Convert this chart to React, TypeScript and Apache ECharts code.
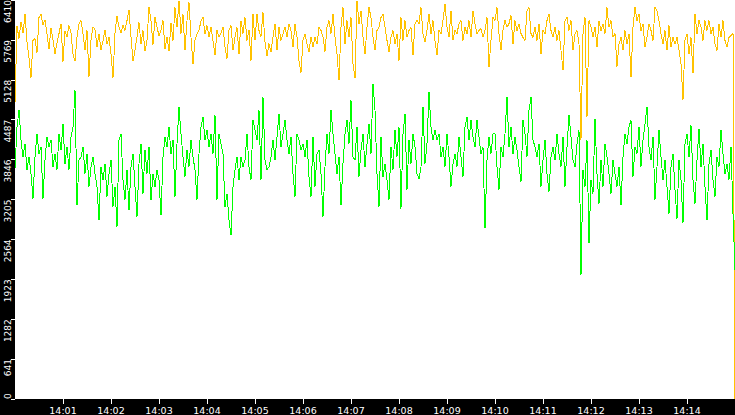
import React, { useEffect, useRef } from 'react';
import * as echarts from 'echarts';

// seconds after 14:00:00 are derived from the point index (one sample every 2.5 s)
const spanSeconds = 900;

const xTickSeconds = [60, 120, 180, 240, 300, 360, 420, 480, 540, 600, 660, 720, 780, 840];
const xTickLabels = ['14:01', '14:02', '14:03', '14:04', '14:05', '14:06', '14:07', '14:08', '14:09', '14:10', '14:11', '14:12', '14:13', '14:14'];

const yMax = 6410;
const yStep = 641;

const yellowValues = [
  4750, 5990, 5790, 6060, 5880, 6180, 5740, 5480, 5160, 5760,
  5790, 5560, 6130, 6180, 6010, 6090, 5870, 5620, 5960, 5770,
  5540, 5720, 5870, 6030, 5420, 5910, 5820, 6000, 5880, 5540,
  5430, 5820, 6030, 6080, 5860, 5600, 5920, 5180, 5760, 5980,
  5930, 5660, 5870, 5610, 5750, 5930, 5700, 5810, 5550, 5160,
  5870, 6160, 5970, 5880, 6010, 5920, 6080, 6250, 5810, 5430,
  5600, 5820, 6050, 5700, 5920, 5590, 5760, 6290, 6070, 5690,
  6130, 5970, 5840, 5930, 6080, 5620, 5810, 5590, 6040, 5760,
  6290, 5970, 6400, 5870, 6180, 5600, 6080, 6370, 5810, 5380,
  5760, 5870, 5930, 6070, 6130, 5860, 6000, 5820, 5970, 5760,
  5520, 5920, 5810, 5880, 5970, 5650, 5470, 5930, 6000, 5600,
  5810, 5970, 5540, 6080, 5870, 6130, 5760, 5930, 5430, 6180,
  5760, 6180, 5920, 5820, 6210, 5730, 5510, 5710, 5580, 5810,
  6030, 5600, 5970, 5760, 5870, 5980, 5810, 6030, 5920, 5650,
  6030, 5810, 5430, 5240, 5760, 5870, 5700, 5580, 5810, 5650,
  5810, 5700, 5970, 5920, 5820, 5580, 5970, 6080, 5870, 6180,
  5810, 5540, 5120, 5970, 6290, 5700, 6080, 5810, 6130, 5390,
  5150, 6400, 6030, 6240, 5810, 5540, 5970, 6290, 6130, 5810,
  5600, 5920, 5970, 6130, 6180, 5970, 5760, 5580, 5810, 5920,
  5700, 5870, 5430, 6130, 5760, 6080, 5810, 5920, 5970, 5520,
  6030, 6080, 6030, 6290, 5870, 5730, 5920, 6180, 5870, 6080,
  5760, 5520, 5920, 5870, 6080, 6350, 5970, 5810, 6240, 5760,
  5920, 5870, 6030, 6080, 5760, 5970, 5870, 6080, 5810, 6240,
  6030, 5870, 5920, 5950, 5810, 5920, 6130, 5330, 5760, 6130,
  6080, 6290, 5870, 5600, 5920, 6080, 5970, 6030, 6160, 5700,
  6080, 5920, 6030, 5870, 5810, 5760, 6240, 6290, 5870, 5810,
  5970, 5760, 6030, 5540, 5920, 5870, 6080, 6180, 5920, 5810,
  5970, 5760, 5920, 5600, 5280, 6080, 6130, 5920, 6080, 5600,
  5870, 5920, 5700, 4160, 5870, 6140, 4530, 6080, 5970, 5810,
  5970, 5650, 6080, 5920, 6030, 5870, 6290, 5970, 6080, 5810,
  5870, 5340, 5700, 5810, 5600, 5920, 5700, 5870, 5170, 5970,
  6290, 6080, 6180, 5920, 6030, 5650, 5810, 6030, 5920, 5760,
  6290, 6240, 6080, 5870, 5700, 5920, 5600, 6000, 5650, 5810,
  5700, 5810, 5600, 5390, 4800, 5760, 5870, 5540, 5810, 5230,
  6180, 5870, 6080, 5970, 5760, 6080, 5920, 6080, 5870, 5970,
  5700, 5600, 6030, 5810, 6080, 5760, 5650, 5810, 5840, 5870, 0,
];

const greenValues = [
  3700, 4370, 4640, 4160, 3890, 4100, 3680, 3890, 3620, 3220,
  3890, 4260, 3940, 4050, 3220, 3840, 4210, 4050, 4160, 3730,
  3940, 3680, 4260, 4000, 4420, 3780, 4050, 3680, 4210, 4370,
  4960, 3110, 3840, 3890, 4050, 3620, 3940, 3410, 3730, 3890,
  3620, 3410, 2870, 3730, 3520, 3780, 3250, 3620, 3840, 3090,
  3410, 2770, 4160, 4260, 3520, 3200, 3680, 3030, 3730, 3940,
  3410, 2930, 3780, 4100, 3300, 4000, 3620, 4050, 3200, 3620,
  3410, 3680, 3520, 2950, 3890, 4210, 4050, 4370, 3940, 4160,
  3250, 4100, 4690, 4260, 3890, 3570, 4000, 3730, 4160, 3890,
  3680, 3200, 3940, 4370, 4530, 4160, 4320, 4050, 4260, 3940,
  4560, 3200, 4260, 4100, 3940, 3090, 3300, 2870, 2630, 3410,
  3680, 3890, 3520, 3890, 3730, 3840, 4260, 3730, 3520, 4480,
  4320, 4160, 4640, 3520, 4850, 3840, 3680, 3730, 3890, 4160,
  3840, 4210, 4580, 4050, 4260, 4480, 4160, 3940, 4210, 3620,
  3250, 4260, 4160, 4000, 4100, 3890, 4160, 3570, 3250, 4210,
  3410, 3940, 4000, 3620, 2930, 3730, 4260, 3940, 4640, 4260,
  3940, 3620, 3890, 3110, 3780, 4260, 4480, 4100, 4800, 3890,
  3840, 4370, 3570, 4000, 4260, 3730, 4100, 4420, 3940, 5060,
  4640, 3620, 3090, 4210, 3570, 3780, 3520, 3200, 4050, 3680,
  4320, 3890, 4370, 3060, 4260, 4580, 3360, 4160, 3780, 4260,
  4050, 3620, 3540, 3730, 4690, 3780, 4100, 4930, 4370, 4160,
  4320, 4160, 4260, 3890, 4050, 3730, 4260, 3890, 3410, 3780,
  3940, 3730, 4210, 3890, 3570, 4370, 4530, 4160, 4480, 4210,
  4050, 4480, 4210, 3940, 4050, 2740, 3840, 4210, 3940, 4260,
  4260, 3730, 3360, 4050, 3890, 4260, 4850, 4050, 4370, 3940,
  4210, 4000, 3730, 3490, 4480, 4260, 3890, 4640, 4850, 4160,
  4050, 3890, 4100, 3410, 3840, 4160, 3620, 3330, 3890, 4050,
  3840, 4260, 3940, 3730, 4210, 3410, 4050, 4560, 4210, 3840,
  3730, 4100, 4320, 1990, 3680, 3410, 4160, 2500, 3520, 3300,
  4500, 3620, 3140, 3840, 3410, 4100, 3890, 3620, 3300, 3840,
  3620, 3410, 3730, 3110, 3890, 4260, 4100, 4370, 4480, 3570,
  4050, 3940, 4370, 3730, 4160, 4420, 4690, 4050, 3840, 4210,
  3200, 3730, 4320, 3890, 3520, 3840, 3410, 2980, 3730, 3940,
  3355, 2900, 3840, 3520, 2820, 4100, 4260, 3890, 4400, 3520,
  3140, 3840, 4340, 3730, 4100, 3410, 2870, 3780, 4000, 3520,
  3250, 3890, 3730, 4320, 3940, 3620, 3780, 3520, 4050, 2980, 2070,
];

const toPairs = (values: number[]) =>
  values.map((v, i) => [(i * spanSeconds) / (values.length - 1), v]);

const labelFont = 'DejaVu Sans';

const App = () => {
  const chartRef = useRef<HTMLDivElement>(null);

  useEffect(() => {
    const chart = echarts.init(chartRef.current, null, { renderer: 'svg' });
    chart.setOption({
      animation: false,
      backgroundColor: '#000',
      grid: {
        left: 15,
        right: 0,
        top: 0,
        bottom: 16,
        outerBoundsMode: 'none',
        containLabel: false,
        show: true,
        backgroundColor: '#fff',
        borderWidth: 0,
      },
      xAxis: {
        type: 'value',
        min: 0,
        max: spanSeconds,
        interval: 60,
        axisLine: { show: false },
        splitLine: { show: false },
        axisTick: {
          show: true,
          length: 5,
          customValues: xTickSeconds,
          lineStyle: { color: '#fff', width: 1 },
        },
        axisLabel: {
          customValues: xTickSeconds,
          color: '#fff',
          fontSize: 9.5,
          fontFamily: labelFont,
          margin: 6,
          formatter: (v: number) => xTickLabels[xTickSeconds.indexOf(v)] ?? '',
        },
      },
      yAxis: {
        type: 'value',
        min: 0,
        max: yMax,
        interval: yStep,
        axisLine: { show: false },
        splitLine: { show: false },
        axisTick: { show: true, length: 4, lineStyle: { color: '#fff', width: 1 } },
        axisLabel: {
          color: '#fff',
          fontSize: 9,
          fontFamily: labelFont,
          rotate: 90,
          margin: 3,
          align: 'right',
          alignMinLabel: 'left',
          alignMaxLabel: 'right',
          formatter: (v: number) => String(v),
        },
      },
      series: [
        {
          type: 'line',
          data: toPairs(yellowValues),
          showSymbol: false,
          symbol: 'none',
          sampling: 'none',
          silent: true,
          lineStyle: { color: '#ffc200', width: 1 },
        },
        {
          type: 'line',
          data: toPairs(greenValues),
          showSymbol: false,
          symbol: 'none',
          sampling: 'none',
          silent: true,
          lineStyle: { color: '#00ff00', width: 1 },
        },
      ],
    });

    return () => {
      chart.dispose();
    };
  }, []);

  return (
    <>
      {/* the original is drawn without anti-aliasing */}
      <style>{'.rrd-chart svg path { shape-rendering: crispEdges; }'}</style>
      <div
        ref={chartRef}
        className="rrd-chart"
        style={{ position: 'fixed', left: 0, top: 0, width: '735px', height: '415px', background: '#000' }}
      />
    </>
  );
};

export default App;
